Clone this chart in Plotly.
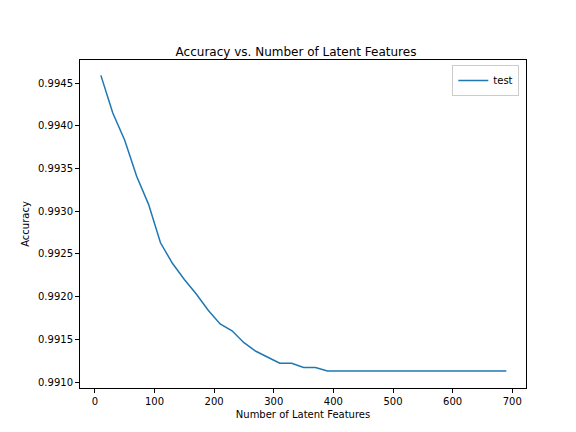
import plotly.graph_objects as go

latent = list(range(10, 700, 20))
acc = [0.99459, 0.99415, 0.99383, 0.99341, 0.99308, 0.99263, 0.99239, 0.99220, 0.99203,
       0.99184, 0.99168, 0.99160, 0.99146, 0.99136, 0.99129, 0.99122, 0.99122, 0.99117,
       0.99117, 0.99113] + [0.99113] * 15

fig = go.Figure(go.Scatter(x=latent, y=acc, mode="lines", name="test",
                           line=dict(color="#1f77b4", width=1.5)))
ax = dict(showgrid=False, zeroline=False, showline=True, linecolor="black", mirror=True,
          ticks="outside", ticklen=4, tickcolor="black", automargin=False)
fig.update_layout(
    width=576, height=432, plot_bgcolor="white", paper_bgcolor="white",
    font=dict(family="DejaVu Sans", size=10, color="black"),
    margin=dict(l=72, r=58, t=52, b=52),
    title=dict(text="Accuracy vs. Number of Latent Features", x=0.5, xanchor="center",
               y=1 - 48/432, yanchor="bottom", font=dict(size=12)),
    xaxis=dict(ax, range=[-25, 723], tickvals=list(range(0, 701, 100)),
               title=dict(text="Number of Latent Features", standoff=4, font=dict(size=10))),
    yaxis=dict(ax, range=[0.99093, 0.99477], tickvals=[0.991 + 0.0005*i for i in range(8)],
               tickformat=".4f", title=dict(text="Accuracy", standoff=6, font=dict(size=10))),
    showlegend=True,
    legend=dict(x=0.985, y=0.985, xanchor="right", yanchor="top", bordercolor="#cccccc",
                borderwidth=1, bgcolor="white", font=dict(size=10), itemwidth=30,
                tracegroupgap=0),
)
fig.write_html("out.html")
